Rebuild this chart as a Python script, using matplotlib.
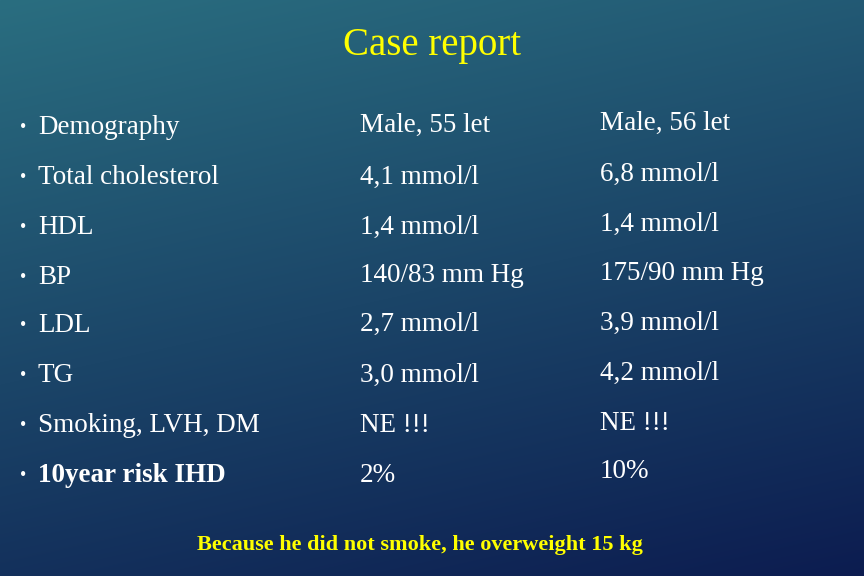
import numpy as np
import matplotlib
matplotlib.use("Agg")
import matplotlib.pyplot as plt

title = "Case report"
labels = ["Demography", "Total cholesterol", "HDL", "BP", "LDL", "TG", "Smoking, LVH, DM", "10year risk IHD"]
col1 = ["Male, 55 let", "4,1 mmol/l", "1,4 mmol/l", "140/83 mm Hg", "2,7 mmol/l", "3,0 mmol/l", "NE !!!", "2%"]
col2 = ["Male, 56 let", "6,8 mmol/l", "1,4 mmol/l", "175/90 mm Hg", "3,9 mmol/l", "4,2 mmol/l", "NE !!!", "10%"]
footer = "Because he did not smoke, he overweight 15 kg"

plt.rcParams['font.family'] = 'serif'
plt.rcParams['font.serif'] = ['Liberation Serif', 'DejaVu Serif']

W, H = 864, 576
fig = plt.figure(figsize=(8.64, 5.76), dpi=100)
ax = fig.add_axes([0, 0, 1, 1])
ax.set_xlim(0, W); ax.set_ylim(H, 0); ax.axis("off")

yy, xx = np.mgrid[0:H, 0:W]
t = np.clip(0.75 * yy / H + 0.25 * xx / W, 0, 1)
top = np.array([0x2a, 0x6e, 0x80]) / 255
bot = np.array([0x0c, 0x1c, 0x50]) / 255
img = top[None, None, :] * (1 - t[..., None]) + bot[None, None, :] * t[..., None]
ax.imshow(img, extent=[0, W, H, 0], aspect="auto", zorder=0)

ax.text(432, 45, title, color="#ffff00", fontsize=28, ha="center", va="center")

ys_l = [127, 177, 227, 277, 326, 376, 426, 476]
ys_1 = [125, 177, 227, 275, 324, 375, 425, 475]
ys_2 = [123, 174, 224, 273, 323, 373, 423, 472]
for i in range(len(labels)):
    bold = "bold" if i == len(labels) - 1 else "normal"
    ax.text(20, ys_l[i], "•", color="white", fontsize=13, va="center")
    ax.text(38, ys_l[i], labels[i], color="white", fontsize=19.5, va="center", weight=bold)
    ax.text(360, ys_1[i], col1[i], color="white", fontsize=19.5, va="center")
    ax.text(600, ys_2[i], col2[i], color="white", fontsize=19.5, va="center")

ax.text(420, 545, footer, color="#ffff00", fontsize=16, weight="bold", ha="center", va="center")
fig.savefig("out.png", dpi=100)
